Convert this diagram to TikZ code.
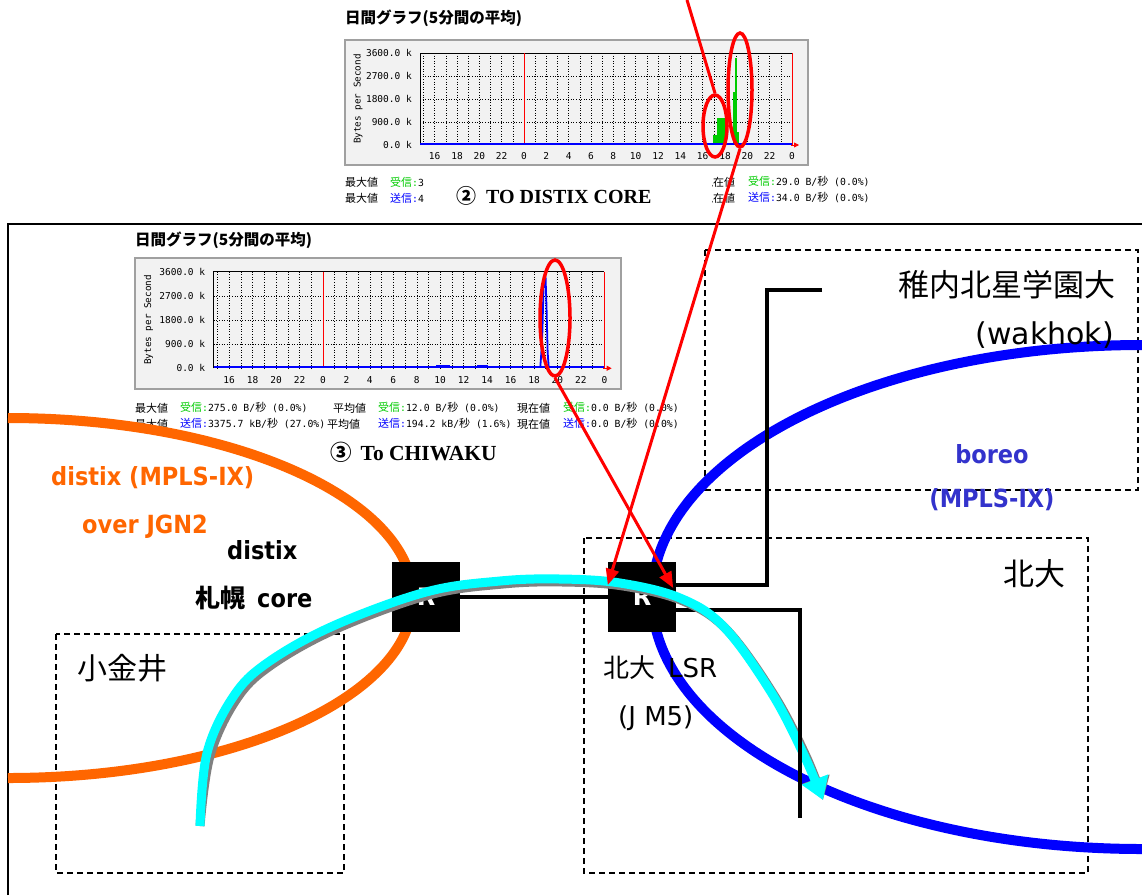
\documentclass[tikz,border=0pt]{standalone}
\usepackage{fontspec}
\usetikzlibrary{arrows.meta,calc,shapes.geometric}
\newfontfamily\jp{Noto Sans CJK JP}
\newfontfamily\jps[Scale=1.12]{Noto Sans CJK JP}
\newfontfamily\sansb[FakeStretch=0.9]{DejaVu Sans}
\newfontfamily\dv{DejaVu Sans}
\newfontfamily\mono{DejaVu Sans Mono}
\newfontfamily\ser{Liberation Serif}
\definecolor{orng}{HTML}{FF6600}
\definecolor{blu}{HTML}{0000FF}
\definecolor{boreoc}{HTML}{3333CC}
\definecolor{cyn}{HTML}{00FFFF}
\definecolor{shd}{HTML}{808080}
\definecolor{rd}{HTML}{FF0000}
\definecolor{gfill}{HTML}{F2F2F2}
\definecolor{gedge}{HTML}{A0A0A0}
\definecolor{rxg}{HTML}{00CC00}
\definecolor{txb}{HTML}{0000FF}
\newcommand{\rxl}{\textcolor{rxg}{{\jps 受信}{\mono :}}}
\newcommand{\txl}{\textcolor{txb}{{\jps 送信}{\mono :}}}
\newcommand{\byo}{{\jps 秒}}
\tikzset{
 conn/.style={draw=black,line width=4.5pt},
 dbox/.style={draw=black,line width=1.4pt,dash pattern=on 6pt off 4pt},
 router/.style={fill=black,minimum width=68pt,minimum height=70pt,inner sep=0pt,text=white,font=\dv\bfseries\fontsize{24}{24}\selectfont},
 redarrow/.style={draw=rd,line width=3pt,-{Triangle[length=16pt,width=13pt]}},
 redring/.style={ellipse,draw=rd,line width=3.5pt,inner sep=0pt},
 gdot/.style={draw=black,line width=0.5pt,dash pattern=on 1pt off 1.6pt},
 glab/.style={inner sep=0pt,font=\mono\fontsize{9.5}{10}\selectfont},
 stat/.style={anchor=west,inner sep=0pt,font=\mono\fontsize{9.8}{12}\selectfont},
 gtitle/.style={anchor=west,inner sep=0pt,font=\jp\bfseries\fontsize{15.5}{15.5}\selectfont},
 bigjp/.style={inner sep=0pt,font=\jp\fontsize{31}{31}\selectfont},
 dvlab/.style={inner sep=0pt,font=\dv\fontsize{26}{26}\selectfont},
 boldlab/.style={inner sep=0pt,font=\sansb\bfseries\fontsize{25}{25}\selectfont},
 caption/.style={anchor=west,inner sep=0pt,font=\ser\bfseries\fontsize{20}{20}\selectfont},
 flow/.style={line width=9pt,-{Triangle[length=22pt,width=27pt]}},
}
\newcommand{\mrtgbase}{%
 \fill[gfill] (0,0) rectangle (463,125);
 \draw[gedge,line width=1.6pt] (0,0) rectangle (463,125);
 \foreach \h in {-9,...,23}{\ifnum\h=0\relax\else\draw[gdot] ({179+11.167*\h},13) -- ({179+11.167*\h},105);\fi}
 \foreach \yy in {36,59,82}{\draw[gdot] (75,\yy) -- (447,\yy);}
 \draw[black,line width=0.7pt] (75,105) -- (75,13) -- (447,13);
 \draw[rd,line width=0.8pt] (179,13) -- (179,105);
 \draw[rd,line width=0.8pt] (447,13) -- (447,105);
 \draw[rd,line width=0.8pt,-{Triangle[length=5pt,width=5pt]}] (446,105) -- (454,105);
 \foreach \h in {-8,-6,...,24}{\pgfmathtruncatemacro\lab{mod(\h+24,24)}\node[glab] (xl\h) at ({179+11.167*\h},116) {\lab};}
 \foreach \val/\yy in {3600.0/13,2700.0/36,1800.0/59,900.0/82,0.0/105}{\node[glab,anchor=east] (yl\yy) at (67,\yy) {\val\ k};}
 \node[glab,rotate=90,font=\mono\fontsize{9.3}{9.3}\selectfont] (ylab) at (13,59) {Bytes per Second};
}
\begin{document}
\begin{tikzpicture}[x=1pt,y=-1pt]
\useasboundingbox (0,0) rectangle (1142,895);
\fill[white] (0,0) rectangle (1142,895);

% ---------- graph 2 (top) ----------
\node[gtitle] (t2) at (345,18) {日間グラフ(5分間の平均)};
\begin{scope}[shift={(345,40)}]
 \mrtgbase
 \fill[rxg] (368,105) rectangle (372,95);
 \fill[rxg] (372,105) rectangle (382,78);
 \fill[rxg] (388,105) rectangle (390,52);
 \fill[rxg] (390,105) rectangle (392,18);
 \fill[rxg] (392,105) rectangle (394,92);
 \draw[blu,line width=2.5pt] (75,104) -- (447,104);
\end{scope}
\begin{scope}
 \clip (340,170) rectangle (423.5,210);
 \node[stat] (s2a) at (345,182) {\jps 最大値};
 \node[stat] (s2b) at (390,182) {\rxl\mono 3};
 \node[stat] (s2c) at (345,198) {\jps 最大値};
 \node[stat] (s2d) at (390,198) {\txl\mono 4};
\end{scope}
\begin{scope}
 \clip (712,170) rectangle (900,210);
 \node[stat] (s2e) at (702,182) {\jps 現在値};
 \node[stat] (s2f) at (748,182) {\rxl\mono 29.0 B/\byo\mono\ (0.0\%)};
 \node[stat] (s2g) at (702,198) {\jps 現在値};
 \node[stat] (s2h) at (748,198) {\txl\mono 34.0 B/\byo\mono\ (0.0\%)};
\end{scope}
\node[caption] (cap2) at (456,196) {{\jp ②}\hspace{10pt}TO DISTIX CORE};

% ---------- graph 3 ----------
\node[gtitle] (t3) at (135,240) {日間グラフ(5分間の平均)};
\begin{scope}[shift={(135,258)},scale=1.05]
 \mrtgbase
 \draw[blu,line width=2.5pt] (75,104) -- (447,104);
 \draw[blu,line width=3.5pt] (287,103.5) -- (300,103.5);
 \draw[blu,line width=3.5pt] (326,103.5) -- (336,103.5);
 \draw[blu,line width=1.8pt,line join=round] (386,104) -- (387,90) -- (388,70) -- (389,30) -- (390,18) -- (391,18) -- (392,50) -- (393,90) -- (394,104);
\end{scope}
\node[stat] (s3a) at (135,408) {\jps 最大値};
\node[stat] (s3b) at (180,408) {\rxl\mono 275.0 B/\byo\mono\ (0.0\%)};
\node[stat] (s3c) at (333,408) {\jps 平均値};
\node[stat] (s3d) at (378,408) {\rxl\mono 12.0 B/\byo\mono\ (0.0\%)};
\node[stat] (s3e) at (517,408) {\jps 現在値};
\node[stat] (s3f) at (563,408) {\rxl\mono 0.0 B/\byo\mono\ (0.0\%)};
\node[stat] (s3g) at (135,424) {\jps 最大値};
\node[stat] (s3h) at (180,424) {\txl\mono 3375.7 kB/\byo\mono\ (27.0\%)};
\node[stat] (s3i) at (327,424) {\jps 平均値};
\node[stat] (s3j) at (378,424) {\txl\mono 194.2 kB/\byo\mono\ (1.6\%)};
\node[stat] (s3k) at (517,424) {\jps 現在値};
\node[stat] (s3l) at (563,424) {\txl\mono 0.0 B/\byo\mono\ (0.0\%)};
\node[caption,font=\ser\bfseries\fontsize{21.5}{21.5}\selectfont] (cap3) at (330,452) {{\jp ③}\hspace{9pt}To CHIWAKU};

% ---------- frame and areas ----------
\draw[black,line width=2pt] (8,895) -- (8,224) -- (1142,224);
\draw[dbox] (705,250) rectangle (1138,490);
\draw[dbox] (584,538) rectangle (1088,873);
\draw[dbox] (56,634) rectangle (344,873);

% ---------- networks ----------
\draw[orng,line width=10pt] (8,418) .. controls (231.7,418) and (413,498.6) .. (413,598) .. controls (413,697.4) and (231.7,778) .. (8,778);
\draw[blu,line width=10pt] (1142,345) .. controls (871.4,345) and (652,457.8) .. (652,597) .. controls (652,736.2) and (871.4,849) .. (1142,849);

% ---------- routers and links ----------
\node[router] (R1) at (426,597) {R};
\node[router] (R2) at (642,597) {R};
\coordinate (wk) at (822,290);
\coordinate (nb) at (800,818);
\draw[conn] (R1.east) -- (R2.west);
\draw[conn] (wk) -- (767,290) |- ($(R2.east)+(0,-12)$);
\draw[conn] ($(R2.east)+(0,13)$) -| (nb);

% ---------- traffic path ----------
\coordinate (cs) at (200,826);
\coordinate (ce) at (823,800);
\draw[shd,flow,shift={(3,3)}] plot[smooth,tension=0.6] coordinates {(cs) (207,753) (233,697) (267,663) (333,626) (426,592) (500,581) (560,579) (620,583) (680,598) (724,627) (771,692) (803,753) (ce)};
\draw[cyn,flow] plot[smooth,tension=0.6] coordinates {(cs) (207,753) (233,697) (267,663) (333,626) (426,592) (500,581) (560,579) (620,583) (680,598) (724,627) (771,692) (803,753) (ce)};
\draw[conn] (nb |- R2.south) -- (nb);

% ---------- red marks ----------
\node[redring,minimum width=24pt,minimum height=62pt] (e2a) at (715,126) {};
\node[redring,minimum width=24pt,minimum height=114pt] (e2b) at (740,90) {};
\node[redring,minimum width=30pt,minimum height=116pt] (e3) at (555,318) {};
\coordinate (topin) at (687,0);
\draw[rd,line width=3pt] (topin) -- (e2a.north);
\draw[redarrow] (e2b.south) -- ($(R2.west)+(0,-12)$);
\draw[redarrow] (e3.south) -- ($(R2.east)+(-3,-9)$);

% ---------- labels ----------
\node[bigjp,anchor=east] (wkj) at (1116,285) {稚内北星学園大};
\node[inner sep=0pt,anchor=east,font=\dv\fontsize{30}{30}\selectfont] (wke) at (1114,335) {(wakhok)};
\node[bigjp,anchor=west,font=\jp\fontsize{30}{30}\selectfont] (kog) at (77,668) {小金井};
\node[bigjp,anchor=west] (hkd) at (1003,574) {北大};
\node[dvlab,anchor=west] (lsr) at (603,668) {{\jp 北大}\hspace{13pt}LSR};
\node[dvlab,anchor=west] (jm5) at (618,718) {(J M5)};
\node[boldlab,anchor=west,text=orng] (dx1) at (51,478) {distix (MPLS-IX)};
\node[boldlab,anchor=west,text=orng] (dx2) at (82,527) {over JGN2};
\node[boldlab,anchor=west] (dx3) at (227,550) {distix};
\node[boldlab,anchor=west] (dx4) at (195,598) {{\jp\bfseries 札幌}\hspace{12pt}core};
\node[boldlab,text=boreoc] (bo1) at (992,454) {boreo};
\node[boldlab,text=boreoc] (bo2) at (992,500) {(MPLS-IX)};
\end{tikzpicture}
\end{document}
